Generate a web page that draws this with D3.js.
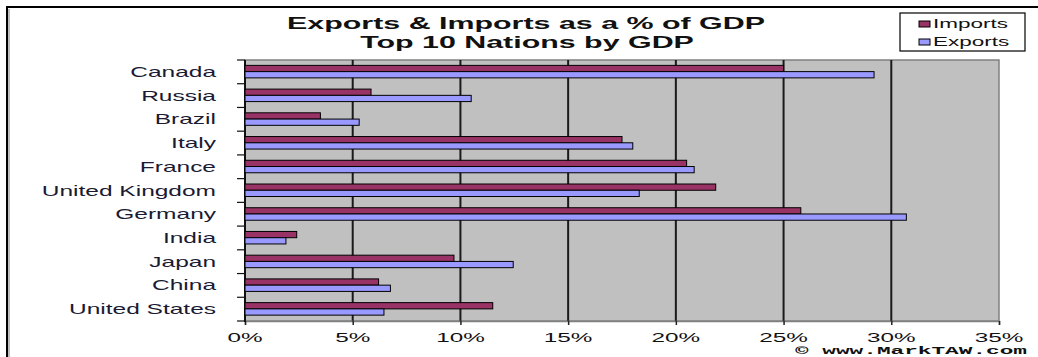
<!DOCTYPE html>
<html>
<head>
<meta charset="utf-8">
<script src="https://cdn.jsdelivr.net/npm/d3@7"></script>
<style>
  body { margin: 0; background: #fff; }
  text { font-family: "Liberation Sans", Arial, sans-serif; }
</style>
</head>
<body>
<svg id="chart" width="1038" height="357"></svg>
<script>
// values (percent of GDP)
var countries = ["Canada", "Russia", "Brazil", "Italy", "France", "United Kingdom",
                 "Germany", "India", "Japan", "China", "United States"]
var imports = [25.0, 5.85, 3.5, 17.5, 20.5, 21.85, 25.8, 2.4, 9.7, 6.2, 11.5]
var exports = [29.2, 10.5, 5.3, 18.0, 20.85, 18.3, 30.7, 1.9, 12.45, 6.75, 6.45]
var seriesNames = ["Imports", "Exports"]
var seriesColors = ["#993366", "#9999ff"]
var xTicks = [0, 5, 10, 15, 20, 25, 30, 35]
var titleLines = ["Exports & Imports as a % of GDP", "Top 10 Nations by GDP"]
var credit = "\u00a9 www.MarkTAW.com"

var svg = d3.select("#chart")

// the original is a stretched bitmap, so texts get a horizontal scale
function wideText(parent, x, y, str, size, sx, anchor, weight, family) {
  var g = parent.append("g").attr("transform", "translate(" + x + "," + y + ") scale(" + sx + ",1)")
  var t = g.append("text")
    .attr("text-anchor", anchor)
    .attr("font-size", size)
    .attr("font-weight", weight || "normal")
    .attr("fill", "#111")
    .text(str)
  if (family) t.style("font-family", family)
  return t
}

// outer frame
svg.append("line").attr("x1", 6).attr("x2", 1038).attr("y1", 7).attr("y2", 7)
  .attr("stroke", "#000").attr("stroke-width", 2)
svg.append("line").attr("x1", 7).attr("x2", 7).attr("y1", 7).attr("y2", 357)
  .attr("stroke", "#000").attr("stroke-width", 2)
svg.append("line").attr("x1", 9).attr("x2", 9).attr("y1", 9).attr("y2", 357)
  .attr("stroke", "#aaa").attr("stroke-width", 1.5)

// scales
var x = d3.scaleLinear().domain([0, 35]).range([245, 999])
var y = d3.scaleBand().domain(countries).range([60, 321]).padding(0)
var bw = y.bandwidth()
var ySub = d3.scaleBand().domain(seriesNames).range([bw / 2 - 6.5, bw / 2 + 6])

// plot area
svg.append("rect")
  .attr("x", x(0)).attr("y", 60).attr("width", x(35) - x(0)).attr("height", 261)
  .attr("fill", "#c0c0c0").attr("stroke", "#808080").attr("stroke-width", 1.5)

// vertical gridlines + bottom ticks
svg.append("g").selectAll("line").data(xTicks.slice(1, -1)).join("line")
  .attr("x1", d => x(d)).attr("x2", d => x(d))
  .attr("y1", 60).attr("y2", 321)
  .attr("stroke", "#1a1a1a").attr("stroke-width", 2)

var xAxis = d3.axisBottom(x).tickValues(xTicks).tickSize(4).tickFormat(d => "")
var gx = svg.append("g").attr("transform", "translate(0,321)").call(xAxis)
gx.select(".domain").attr("stroke", "#808080").attr("stroke-width", 1.5)
gx.selectAll(".tick line").attr("stroke", "#222").attr("stroke-width", 1.5)

xTicks.forEach(function (d) {
  wideText(svg, x(d), 341.5, d + "%", 13.5, 1.8, "middle")
})

// category axis, ticks at band boundaries
svg.append("line").attr("x1", x(0)).attr("x2", x(0)).attr("y1", 60).attr("y2", 322)
  .attr("stroke", "#111").attr("stroke-width", 2)
var bounds = countries.map(c => y(c)).concat([y(countries[countries.length - 1]) + bw])
svg.append("g").selectAll("line").data(bounds).join("line")
  .attr("x1", x(0) - 8).attr("x2", x(0))
  .attr("y1", d => d).attr("y2", d => d)
  .attr("stroke", "#111").attr("stroke-width", 1.2)

countries.forEach(function (c) {
  wideText(svg, 216, y(c) + bw / 2 + 5, c, 14, 1.75, "end").attr("fill", "#1a1a33")
})

// bars
var rows = countries.map((c, i) => ({ country: c, values: [imports[i], exports[i]] }))
var groups = svg.append("g").selectAll("g").data(rows).join("g")
  .attr("transform", d => "translate(0," + y(d.country) + ")")
groups.selectAll("rect")
  .data(d => d.values.map((v, k) => ({ name: seriesNames[k], value: v, color: seriesColors[k] })))
  .join("rect")
  .attr("x", x(0))
  .attr("y", d => ySub(d.name))
  .attr("width", d => x(d.value) - x(0))
  .attr("height", ySub.bandwidth())
  .attr("fill", d => d.color)
  .attr("stroke", "#000").attr("stroke-width", 1)

// title
wideText(svg, 526, 29, titleLines[0], 16, 1.9, "middle", "bold")
wideText(svg, 527, 48, titleLines[1], 16, 1.9, "middle", "bold")

// legend
var leg = svg.append("g")
leg.append("rect").attr("x", 900).attr("y", 13).attr("width", 125).attr("height", 38)
  .attr("fill", "#fff").attr("stroke", "#000").attr("stroke-width", 1.2)
seriesNames.forEach(function (s, i) {
  var yy = [27.5, 45.5][i]
  leg.append("rect").attr("x", 919).attr("y", yy - 6.5).attr("width", 11).attr("height", 6)
    .attr("fill", seriesColors[i]).attr("stroke", "#000").attr("stroke-width", 1)
  wideText(leg, 933, yy, s, 12.5, 1.8, "start")
})

// credit line
wideText(svg, 795, 354, credit, 11.5, 1.98, "start", "bold", "'Liberation Mono', 'Courier New', monospace")
</script>
</body>
</html>
